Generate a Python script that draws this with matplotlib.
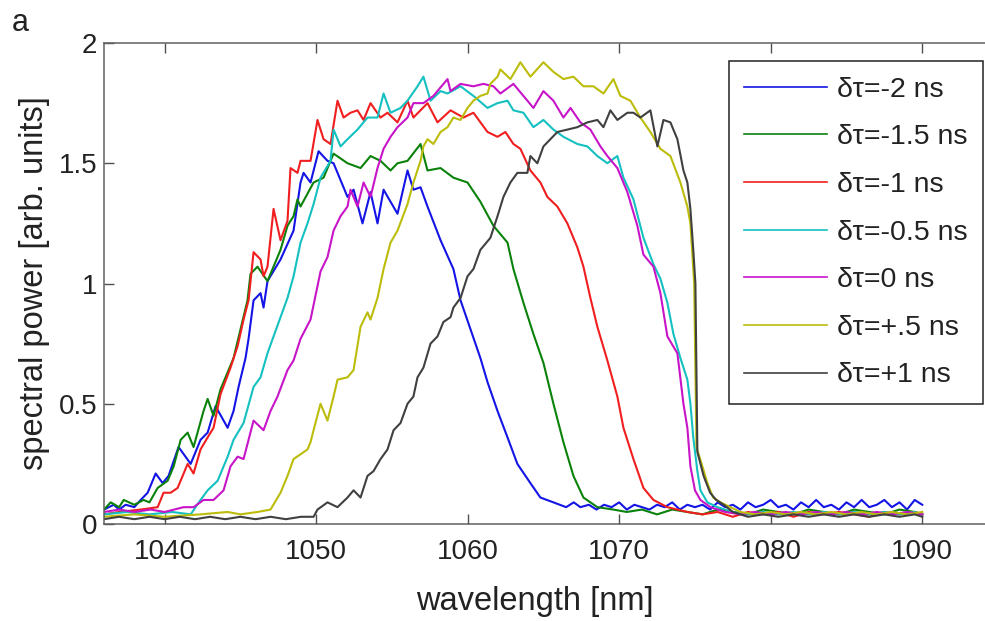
import matplotlib
matplotlib.use("Agg")
import matplotlib.pyplot as plt

plt.rcParams['font.family'] = ['Liberation Sans', 'DejaVu Sans']

# (wavelength nm, spectral power)
blue = [(1036.0, 0.06), (1036.64, 0.08), (1037.0, 0.06), (1037.43, 0.08), (1038.0, 0.07), (1038.42, 0.10),
        (1038.88, 0.13), (1039.41, 0.21), (1039.87, 0.17), (1040.26, 0.20), (1040.92, 0.32), (1041.72, 0.25),
        (1042.37, 0.35), (1042.84, 0.38), (1043.36, 0.49), (1044.16, 0.40), (1044.55, 0.47), (1044.88, 0.57),
        (1045.34, 0.69), (1045.54, 0.77), (1045.87, 0.93), (1046.33, 0.96), (1046.53, 0.90), (1046.79, 1.01),
        (1047.65, 1.10), (1048.51, 1.22), (1048.97, 1.42), (1049.17, 1.46), (1049.63, 1.42), (1050.16, 1.55),
        (1050.75, 1.51), (1051.15, 1.50), (1052.07, 1.36), (1052.47, 1.39), (1053.06, 1.25), (1053.59, 1.38),
        (1054.05, 1.25), (1054.45, 1.39), (1055.37, 1.29), (1056.03, 1.47), (1056.42, 1.39), (1056.89, 1.40),
        (1057.35, 1.32), (1058.21, 1.18), (1059.06, 1.06), (1059.53, 0.93), (1060.84, 0.69), (1061.31, 0.59),
        (1061.97, 0.47), (1062.63, 0.36), (1063.28, 0.25), (1064.14, 0.17), (1064.80, 0.11), (1065.66, 0.09),
        (1066.5, 0.07), (1067.0, 0.09), (1067.44, 0.07), (1068.0, 0.08), (1068.5, 0.06), (1069.0, 0.08),
        (1069.5, 0.07), (1070.0, 0.09), (1070.5, 0.06), (1071.0, 0.08), (1071.5, 0.07), (1072.0, 0.06),
        (1072.5, 0.08), (1073.0, 0.07), (1073.5, 0.09), (1074.0, 0.06), (1074.5, 0.08), (1075.0, 0.07),
        (1075.5, 0.08), (1076.0, 0.06), (1076.5, 0.09), (1077.0, 0.07), (1077.5, 0.08), (1078.0, 0.06),
        (1078.5, 0.09), (1079.0, 0.07), (1079.5, 0.08), (1080.0, 0.10), (1080.5, 0.07), (1081.0, 0.08),
        (1081.5, 0.06), (1082.0, 0.09), (1082.5, 0.07), (1083.0, 0.10), (1083.5, 0.07), (1084.0, 0.08),
        (1084.5, 0.06), (1085.0, 0.09), (1085.5, 0.07), (1086.0, 0.10), (1086.5, 0.07), (1087.0, 0.08),
        (1087.5, 0.10), (1088.0, 0.07), (1088.5, 0.09), (1089.0, 0.06), (1089.5, 0.10), (1090.0, 0.08)]

green = [(1036.0, 0.06), (1036.44, 0.09), (1037.0, 0.07), (1037.30, 0.10), (1038.0, 0.08), (1038.61, 0.10),
         (1039.0, 0.09), (1039.54, 0.15), (1040.20, 0.18), (1040.6, 0.24), (1041.06, 0.35), (1041.52, 0.38),
         (1041.91, 0.32), (1042.57, 0.47), (1042.84, 0.52), (1043.23, 0.45), (1043.69, 0.56), (1044.55, 0.69),
         (1045.47, 0.93), (1045.67, 1.04), (1046.13, 1.07), (1046.79, 1.01), (1047.65, 1.14), (1048.11, 1.24),
         (1048.51, 1.28), (1048.77, 1.35), (1048.97, 1.32), (1049.83, 1.42), (1050.49, 1.44), (1051.15, 1.54),
         (1052.07, 1.50), (1052.93, 1.48), (1053.59, 1.53), (1054.25, 1.51), (1054.91, 1.47), (1055.37, 1.50),
         (1056.03, 1.51), (1056.89, 1.58), (1057.35, 1.47), (1058.21, 1.48), (1059.06, 1.44), (1059.99, 1.42),
         (1060.84, 1.34), (1061.70, 1.24), (1062.63, 1.17), (1063.02, 1.06), (1063.68, 0.92), (1064.34, 0.79),
         (1065.00, 0.67), (1065.66, 0.50), (1066.32, 0.34), (1066.98, 0.20), (1067.64, 0.11), (1068.56, 0.07),
         (1069.62, 0.06), (1070.5, 0.05), (1071.5, 0.06), (1072.5, 0.04), (1073.5, 0.06), (1074.5, 0.05),
         (1075.5, 0.04), (1076.5, 0.06), (1077.5, 0.05), (1078.5, 0.04), (1079.5, 0.06), (1080.5, 0.05),
         (1081.5, 0.04), (1082.5, 0.06), (1083.5, 0.05), (1084.5, 0.04), (1085.5, 0.06), (1086.5, 0.05),
         (1087.5, 0.04), (1088.5, 0.06), (1089.5, 0.05), (1090.0, 0.04)]

red = [(1036.0, 0.04), (1037.0, 0.05), (1038.42, 0.06), (1039.54, 0.07), (1039.93, 0.13), (1040.40, 0.13),
       (1040.86, 0.15), (1041.52, 0.25), (1041.91, 0.21), (1042.37, 0.31), (1042.84, 0.36), (1043.23, 0.40),
       (1043.69, 0.54), (1044.35, 0.65), (1044.82, 0.74), (1045.21, 0.85), (1045.54, 0.93), (1045.87, 1.13),
       (1046.33, 1.10), (1046.53, 1.03), (1046.79, 1.07), (1047.19, 1.31), (1047.65, 1.18), (1048.11, 1.26),
       (1048.31, 1.48), (1048.77, 1.46), (1048.97, 1.51), (1049.63, 1.51), (1050.09, 1.68), (1050.49, 1.60),
       (1050.95, 1.58), (1051.41, 1.76), (1051.81, 1.69), (1052.27, 1.71), (1052.73, 1.72), (1053.13, 1.68),
       (1053.59, 1.75), (1054.25, 1.69), (1054.71, 1.71), (1055.37, 1.67), (1056.03, 1.76), (1056.42, 1.69),
       (1057.35, 1.75), (1058.01, 1.67), (1058.87, 1.72), (1059.72, 1.69), (1060.38, 1.71), (1061.31, 1.63),
       (1061.97, 1.61), (1062.49, 1.63), (1063.02, 1.58), (1063.48, 1.56), (1064.14, 1.47), (1064.80, 1.42),
       (1065.26, 1.36), (1065.92, 1.32), (1066.58, 1.25), (1067.24, 1.15), (1067.64, 1.07), (1068.10, 0.94),
       (1068.56, 0.82), (1069.22, 0.68), (1069.88, 0.53), (1070.28, 0.40), (1070.94, 0.27), (1071.60, 0.15),
       (1072.26, 0.10), (1073.18, 0.07), (1074.50, 0.05), (1075.5, 0.04), (1076.5, 0.05), (1077.5, 0.03),
       (1078.5, 0.05), (1079.5, 0.04), (1080.5, 0.05), (1081.5, 0.03), (1082.5, 0.05), (1083.5, 0.04),
       (1084.5, 0.05), (1085.5, 0.04), (1086.5, 0.03), (1087.5, 0.05), (1088.5, 0.04), (1089.5, 0.05),
       (1090.0, 0.04)]

cyan = [(1036.0, 0.04), (1037.5, 0.05), (1039.0, 0.04), (1040.5, 0.05), (1041.72, 0.04), (1042.37, 0.10),
        (1042.84, 0.14), (1043.50, 0.18), (1044.16, 0.28), (1044.55, 0.35), (1045.21, 0.42), (1045.87, 0.57),
        (1046.33, 0.61), (1046.79, 0.71), (1047.19, 0.78), (1047.65, 0.86), (1048.11, 0.94), (1048.51, 1.03),
        (1048.97, 1.17), (1049.43, 1.25), (1049.83, 1.33), (1050.29, 1.44), (1050.95, 1.51), (1051.15, 1.64),
        (1051.61, 1.57), (1052.07, 1.60), (1052.73, 1.64), (1053.39, 1.69), (1054.05, 1.69), (1054.45, 1.79),
        (1054.91, 1.71), (1055.57, 1.73), (1056.03, 1.76), (1056.69, 1.82), (1057.08, 1.86), (1057.55, 1.76),
        (1058.21, 1.80), (1058.67, 1.79), (1059.53, 1.82), (1060.38, 1.78), (1061.31, 1.73), (1061.97, 1.75),
        (1062.63, 1.76), (1063.02, 1.72), (1063.68, 1.71), (1064.34, 1.65), (1065.00, 1.68), (1065.66, 1.64),
        (1066.32, 1.61), (1067.24, 1.58), (1067.90, 1.57), (1068.56, 1.53), (1069.22, 1.50), (1069.88, 1.53),
        (1070.28, 1.44), (1070.94, 1.35), (1071.60, 1.19), (1072.26, 1.08), (1072.72, 1.02), (1073.18, 0.92),
        (1073.58, 0.79), (1074.04, 0.69), (1074.50, 0.60), (1074.70, 0.50), (1074.89, 0.36), (1075.16, 0.22),
        (1075.36, 0.14), (1075.82, 0.09), (1076.48, 0.07), (1077.5, 0.05), (1078.5, 0.04), (1079.5, 0.05),
        (1080.5, 0.04), (1081.5, 0.05), (1082.5, 0.04), (1083.5, 0.05), (1084.5, 0.04), (1085.5, 0.05),
        (1086.5, 0.04), (1087.5, 0.05), (1088.5, 0.04), (1089.5, 0.05), (1090.0, 0.04)]

magenta = [(1036.0, 0.05), (1037.0, 0.06), (1038.0, 0.05), (1039.08, 0.06), (1040.0, 0.05), (1041.25, 0.07),
           (1041.91, 0.07), (1042.57, 0.10), (1043.23, 0.10), (1043.89, 0.14), (1044.35, 0.24), (1044.82, 0.28),
           (1045.21, 0.27), (1045.87, 0.43), (1046.53, 0.39), (1046.99, 0.47), (1047.45, 0.53), (1048.11, 0.64),
           (1048.51, 0.68), (1048.97, 0.77), (1049.63, 0.85), (1050.29, 1.05), (1050.75, 1.11), (1051.15, 1.22),
           (1051.61, 1.28), (1052.07, 1.32), (1052.27, 1.39), (1052.73, 1.32), (1053.13, 1.42), (1053.59, 1.36),
           (1054.05, 1.48), (1054.45, 1.56), (1054.91, 1.61), (1055.37, 1.65), (1056.03, 1.69), (1056.42, 1.75),
           (1057.08, 1.75), (1057.74, 1.78), (1058.67, 1.85), (1058.87, 1.80), (1059.53, 1.83), (1060.38, 1.82),
           (1061.04, 1.83), (1061.70, 1.82), (1062.16, 1.79), (1063.02, 1.83), (1063.68, 1.78), (1064.34, 1.73),
           (1065.00, 1.80), (1065.66, 1.76), (1066.32, 1.69), (1066.79, 1.73), (1067.44, 1.67), (1068.10, 1.64),
           (1068.76, 1.57), (1069.22, 1.53), (1069.88, 1.48), (1070.54, 1.38), (1071.20, 1.24), (1071.60, 1.12),
           (1072.26, 1.07), (1072.72, 0.96), (1073.18, 0.78), (1073.84, 0.71), (1074.24, 0.50), (1074.50, 0.40),
           (1074.70, 0.24), (1075.0, 0.14), (1075.36, 0.10), (1076.02, 0.07), (1077.0, 0.05), (1078.0, 0.04),
           (1079.0, 0.05), (1080.0, 0.04), (1081.0, 0.05), (1082.0, 0.04), (1083.0, 0.05), (1084.0, 0.04),
           (1085.0, 0.05), (1086.0, 0.04), (1087.0, 0.05), (1088.0, 0.04), (1089.0, 0.05), (1090.0, 0.04)]

yellow = [(1036.0, 0.03), (1038.0, 0.04), (1040.0, 0.03), (1042.37, 0.04), (1044.16, 0.05), (1045.0, 0.04),
          (1046.13, 0.05), (1046.99, 0.06), (1047.65, 0.13), (1048.11, 0.20), (1048.51, 0.27), (1048.97, 0.29),
          (1049.43, 0.31), (1049.63, 0.34), (1049.83, 0.39), (1050.29, 0.50), (1050.75, 0.43), (1051.15, 0.53),
          (1051.41, 0.60), (1052.07, 0.61), (1052.47, 0.64), (1052.93, 0.82), (1053.39, 0.88), (1053.59, 0.85),
          (1054.05, 0.94), (1054.45, 1.06), (1054.91, 1.17), (1055.37, 1.22), (1056.03, 1.33), (1056.42, 1.42),
          (1056.89, 1.51), (1057.08, 1.57), (1057.35, 1.60), (1057.74, 1.58), (1058.21, 1.63), (1058.67, 1.65),
          (1059.06, 1.69), (1059.53, 1.68), (1059.99, 1.73), (1060.38, 1.76), (1060.84, 1.78), (1061.31, 1.79),
          (1061.50, 1.83), (1061.97, 1.86), (1062.16, 1.89), (1062.82, 1.85), (1063.48, 1.92), (1064.14, 1.86),
          (1065.00, 1.92), (1065.66, 1.88), (1066.32, 1.85), (1066.98, 1.86), (1067.64, 1.82), (1068.30, 1.82),
          (1068.96, 1.79), (1069.62, 1.85), (1070.08, 1.78), (1070.74, 1.76), (1071.40, 1.69), (1072.06, 1.63),
          (1072.72, 1.56), (1073.38, 1.53), (1074.04, 1.42), (1074.50, 1.32), (1074.70, 1.25), (1074.95, 1.00),
          (1075.10, 0.32), (1075.49, 0.24), (1075.82, 0.17), (1076.20, 0.11), (1076.68, 0.09), (1078.0, 0.05),
          (1079.0, 0.04), (1080.0, 0.05), (1081.0, 0.04), (1082.0, 0.05), (1083.0, 0.04), (1084.0, 0.05),
          (1085.0, 0.04), (1086.0, 0.05), (1087.0, 0.04), (1088.0, 0.05), (1089.0, 0.04), (1090.0, 0.05)]

gray = [(1036.0, 0.02), (1037.0, 0.03), (1038.0, 0.02), (1039.0, 0.03), (1040.0, 0.02), (1041.0, 0.03),
        (1042.0, 0.02), (1043.0, 0.03), (1044.0, 0.02), (1045.0, 0.03), (1046.0, 0.02), (1047.0, 0.03),
        (1048.0, 0.02), (1049.0, 0.03), (1049.83, 0.03), (1050.09, 0.06), (1050.75, 0.09), (1051.41, 0.07),
        (1052.07, 0.11), (1052.47, 0.14), (1052.93, 0.11), (1053.39, 0.20), (1053.79, 0.22), (1054.25, 0.27),
        (1054.71, 0.31), (1055.11, 0.39), (1055.57, 0.42), (1056.03, 0.50), (1056.42, 0.53), (1056.69, 0.61),
        (1057.08, 0.65), (1057.55, 0.75), (1058.01, 0.78), (1058.40, 0.84), (1058.87, 0.86), (1059.06, 0.90),
        (1059.53, 0.94), (1059.99, 1.03), (1060.38, 1.06), (1060.84, 1.14), (1061.50, 1.19), (1061.97, 1.28),
        (1062.36, 1.36), (1062.82, 1.42), (1063.28, 1.46), (1063.94, 1.46), (1064.14, 1.53), (1064.60, 1.50),
        (1065.00, 1.57), (1065.46, 1.60), (1065.92, 1.63), (1066.58, 1.64), (1067.24, 1.65), (1067.90, 1.67),
        (1068.56, 1.68), (1068.96, 1.65), (1069.42, 1.72), (1069.88, 1.68), (1070.54, 1.71), (1070.94, 1.71),
        (1071.40, 1.69), (1072.06, 1.72), (1072.52, 1.57), (1072.92, 1.68), (1073.38, 1.67), (1073.84, 1.60),
        (1074.24, 1.47), (1074.50, 1.42), (1074.70, 1.31), (1074.89, 1.14), (1075.03, 1.00), (1075.16, 0.30),
        (1075.57, 0.20), (1076.0, 0.13), (1076.4, 0.10), (1076.9, 0.08), (1077.5, 0.05), (1078.5, 0.03),
        (1079.5, 0.04), (1080.5, 0.03), (1081.5, 0.04), (1082.5, 0.03), (1083.5, 0.04), (1084.5, 0.03),
        (1085.5, 0.04), (1086.5, 0.03), (1087.5, 0.04), (1088.5, 0.03), (1089.5, 0.04), (1090.0, 0.03)]

series = [blue, green, red, cyan, magenta, yellow, gray]
labels = ["δτ=-2 ns", "δτ=-1.5 ns", "δτ=-1 ns", "δτ=-0.5 ns", "δτ=0 ns", "δτ=+.5 ns", "δτ=+1 ns"]
colors = ["#1414e6", "#0a820a", "#f01e1e", "#14c0c0", "#c814c8", "#bcbc0a", "#404040"]

fig = plt.figure(figsize=(9.85, 6.21), dpi=100)
# axes runs a bit past the right edge, as in the cropped original
ax = fig.add_axes([104 / 985, 1 - 524 / 621, 894 / 985, 481 / 621])

for data, lab, col in zip(series, labels, colors):
    xs = [p[0] for p in data]
    ys = [p[1] for p in data]
    ax.plot(xs, ys, color=col, lw=1.5, label=lab)

ax.set_xlim(1036, 1095)
ax.set_ylim(0, 2)
ax.set_xticks([1040, 1050, 1060, 1070, 1080, 1090])
ax.set_yticks([0, 0.5, 1, 1.5, 2])
ax.set_yticklabels(["0", "0.5", "1", "1.5", "2"])
ax.tick_params(direction='in', length=7, width=1, color='#505050', labelsize=20,
               top=True, right=True, labelcolor='#222222')
ax.tick_params(axis='x', pad=11)
ax.tick_params(axis='y', pad=5)
for s in ax.spines.values():
    s.set_color('#606060')
    s.set_linewidth(1.1)

ax.set_xlabel("wavelength [nm]", fontsize=23.5, color='#222222')
ax.xaxis.set_label_coords(0.482, -0.128)
ax.set_ylabel("spectral power [arb. units]", fontsize=23.5, color='#222222')
ax.yaxis.set_label_coords(-0.06, 0.5)

leg = ax.legend(loc='upper right', bbox_to_anchor=(983 / 985, 1 - 61 / 621),
                bbox_transform=fig.transFigure, borderaxespad=0, fontsize=20.5,
                handlelength=2.9, handletextpad=0.35, labelspacing=0.76,
                borderpad=0.55, fancybox=False, framealpha=1)
leg.get_frame().set_edgecolor('#222222')
leg.get_frame().set_linewidth(1.1)
for line in leg.get_lines():
    line.set_linewidth(1.2)
for t in leg.get_texts():
    t.set_color('#222222')

fig.text(12 / 985, 1 - 8 / 621, "a", fontsize=22, va='top', ha='left', color='#222222')

fig.savefig("out.png", dpi=100)
